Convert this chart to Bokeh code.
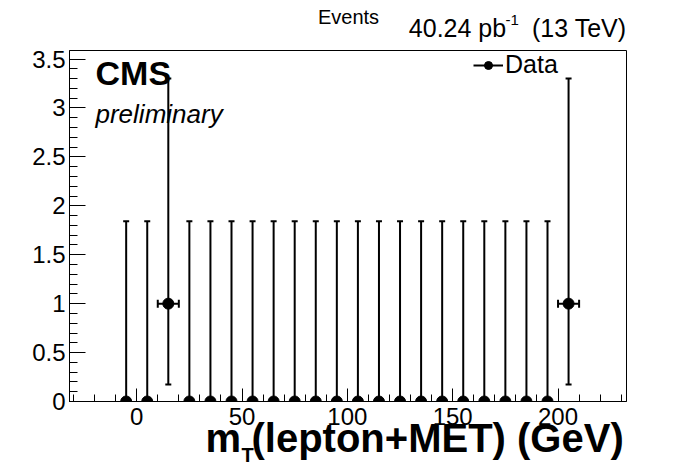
from bokeh.plotting import figure
from bokeh.models import (ColumnDataSource, Whisker, TeeHead, Label, Legend, LegendItem,
                          SingleIntervalTicker, CustomJSTickFormatter, Range1d)
from bokeh.embed import file_html
from bokeh.resources import INLINE

# ---- data ----
bin_centers = [-5, 5, 15, 25, 35, 45, 55, 65, 75, 85, 95, 105,
               115, 125, 135, 145, 155, 165, 175, 185, 195, 205]
counts = [0, 0, 1, 0, 0, 0, 0, 0, 0, 0, 0, 0,
          0, 0, 0, 0, 0, 0, 0, 0, 0, 1]
err_low = [0, 0, 0.827, 0, 0, 0, 0, 0, 0, 0, 0, 0,
           0, 0, 0, 0, 0, 0, 0, 0, 0, 0.827]
err_high = [1.841, 1.841, 2.300, 1.841, 1.841, 1.841, 1.841, 1.841, 1.841, 1.841, 1.841, 1.841,
            1.841, 1.841, 1.841, 1.841, 1.841, 1.841, 1.841, 1.841, 1.841, 2.300]
bin_width = 10

FONT = "Liberation Sans"
XR = (-31.9, 232.5)
YR = (0, 3.587)
NBSP = "\u00a0"
THIN = "\u2009"

src = ColumnDataSource(dict(
    x=bin_centers, y=counts,
    lo=[c - e for c, e in zip(counts, err_low)],
    hi=[c + e for c, e in zip(counts, err_high)],
))
filled = [i for i, c in enumerate(counts) if c > 0]
src_x = ColumnDataSource(dict(
    y=[counts[i] for i in filled],
    xlo=[bin_centers[i] - bin_width / 2 for i in filled],
    xhi=[bin_centers[i] + bin_width / 2 for i in filled],
))

# frame in page pixels
FL, FR, FT, FB = 69, 626, 47, 401
W, H = 696, 472

p = figure(width=W, height=H, output_backend="svg", toolbar_location=None,
           x_range=Range1d(*XR), y_range=Range1d(*YR),
           min_border_left=FL, min_border_right=W - FR, min_border_top=FT, min_border_bottom=H - FB)
p.background_fill_color = "white"
p.border_fill_color = "white"
p.outline_line_color = "black"
p.outline_line_width = 1
p.xgrid.visible = False
p.ygrid.visible = False

# axes
p.xaxis.ticker = SingleIntervalTicker(interval=50, num_minor_ticks=5)
p.yaxis.ticker = SingleIntervalTicker(interval=0.5, num_minor_ticks=5)
p.yaxis.formatter = CustomJSTickFormatter(code="return String(Math.round(tick*10)/10)")
for ax in (p.xaxis, p.yaxis):
    ax.axis_line_color = "black"
    ax.major_tick_line_color = "black"
    ax.minor_tick_line_color = "black"
    ax.major_tick_out = 0
    ax.minor_tick_out = 0
    ax.major_label_text_font = FONT
    ax.major_label_text_font_size = "24px"
    ax.major_label_text_color = "black"
p.xaxis.major_tick_in = 13
p.xaxis.minor_tick_in = 7
p.yaxis.major_tick_in = 16
p.yaxis.minor_tick_in = 8
p.xaxis.major_label_standoff = 6
p.yaxis.major_label_standoff = 4

# error bars
p.add_layout(Whisker(source=src, base="x", lower="lo", upper="hi", dimension="height",
                     line_color="black", line_width=2,
                     upper_head=TeeHead(size=6, line_color="black", line_width=2),
                     lower_head=TeeHead(size=6, line_color="black", line_width=2)))
p.add_layout(Whisker(source=src_x, base="y", lower="xlo", upper="xhi", dimension="width",
                     line_color="black", line_width=2,
                     upper_head=TeeHead(size=8, line_color="black", line_width=2),
                     lower_head=TeeHead(size=8, line_color="black", line_width=2)))
pts = p.scatter("x", "y", source=src, size=11, marker="circle",
                fill_color="black", line_color="black")

# legend-only renderers (hidden in the plot, drawn in the legend)
leg_line = p.line("x", "y", source=src, line_color="black", line_width=2, visible=False)
leg_vbar = p.scatter("x", "y", source=src, marker="dash", angle=1.5708, size=10,
                     line_color="black", line_width=2, visible=False)
legend = Legend(items=[LegendItem(label="Data", renderers=[leg_line, leg_vbar, pts])],
                location=(473 - FL, FB - 79), padding=0, margin=0, spacing=0,
                glyph_width=30, glyph_height=20, label_standoff=2,
                label_text_font=FONT, label_text_font_size="25px",
                label_text_color="black",
                border_line_color=None, background_fill_alpha=0)
p.add_layout(legend)

# text labels: data units computed from page pixel positions (py = baseline).
# Labels outside the frame go into side panels (chosen so the panels keep their size).
def dx(px):
    return XR[0] + (px - FL) * (XR[1] - XR[0]) / (FR - FL)
def dy(py):
    return YR[0] + (FB - py) * (YR[1] - YR[0]) / (FB - FT)

def lab(text, px, py, size, style="normal", align="left", place="center"):
    fs = float(size.replace("px", ""))
    lbl = Label(x=dx(px), y=dy(py - 0.35 * fs),
                text=text, text_font=FONT, text_font_size=size,
                text_font_style=style, text_align=align,
                text_baseline="middle", text_color="black")
    p.add_layout(lbl, place)

lab("CMS", 95, 82, "34px", style="bold")
lab("preliminary", 95, 120, "26px", style="italic")
lab("Events", 348, 20, "20px", align="center", place="above")
lab("40.24 pb" + NBSP * 2 + THIN + " (13 TeV)", 626, 33, "25px", align="right", place="above")
lab("-1", 505, 21, "15px", place="right")
lab("m", 205, 452, "40px", style="bold", place="right")
lab("T", 241, 462, "20px", style="bold", place="right")
lab("(lepton+MET) (GeV)", 251, 452, "40px", style="bold", place="below")

open("out.html", "w").write(file_html(p, INLINE))
